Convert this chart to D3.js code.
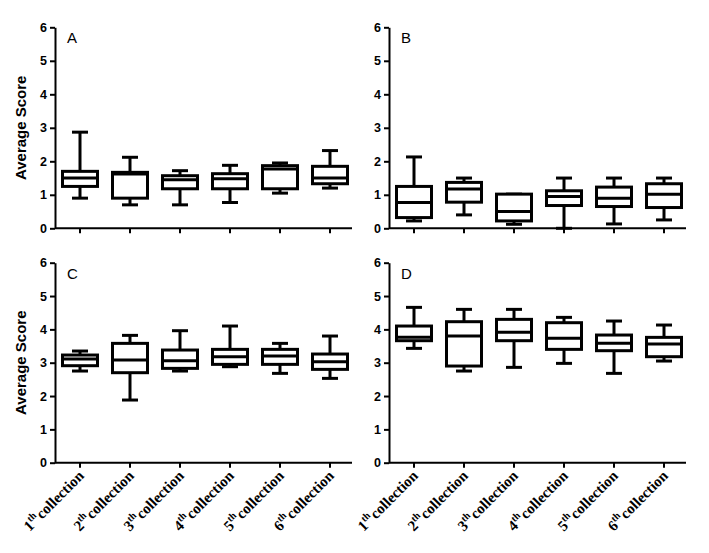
<!DOCTYPE html>
<html>
<head>
<meta charset="UTF-8">
<script src="https://d3js.org/d3.v7.min.js"></script>
<style>
  body { margin: 0; background: #fff; }
  .tick text { font-family: Arial, "Liberation Sans", sans-serif; font-weight: bold; font-size: 12.5px; }
</style>
</head>
<body>
<svg id="chart" width="709" height="553"></svg>
<script>
// categories (number + superscript "th")
const collections = ["1", "2", "3", "4", "5", "6"];
const yTicks = [0, 1, 2, 3, 4, 5, 6];

// each box: [whisker low, q1, median, q3, whisker high]
const panelA = [
  [0.90, 1.25, 1.50, 1.70, 2.87],
  [0.70, 0.90, 1.62, 1.67, 2.12],
  [0.70, 1.18, 1.45, 1.57, 1.72],
  [0.77, 1.18, 1.48, 1.63, 1.88],
  [1.05, 1.18, 1.77, 1.87, 1.95],
  [1.20, 1.33, 1.50, 1.85, 2.32]
];
const panelB = [
  [0.22, 0.32, 0.77, 1.25, 2.13],
  [0.40, 0.78, 1.17, 1.37, 1.50],
  [0.12, 0.22, 0.50, 1.02, 1.02],
  [0.00, 0.68, 0.95, 1.12, 1.50],
  [0.13, 0.65, 0.90, 1.23, 1.50],
  [0.25, 0.62, 1.02, 1.33, 1.50]
];
const panelC = [
  [2.75, 2.91, 3.11, 3.23, 3.35],
  [1.88, 2.70, 3.08, 3.58, 3.82],
  [2.75, 2.83, 3.06, 3.38, 3.96],
  [2.88, 2.95, 3.18, 3.40, 4.10],
  [2.68, 2.95, 3.20, 3.40, 3.58],
  [2.53, 2.80, 3.03, 3.26, 3.80]
];
const panelD = [
  [3.43, 3.66, 3.76, 4.10, 4.66],
  [2.75, 2.90, 3.80, 4.23, 4.60],
  [2.86, 3.66, 3.91, 4.30, 4.60],
  [2.98, 3.40, 3.73, 4.20, 4.36],
  [2.68, 3.36, 3.58, 3.83, 4.25],
  [3.05, 3.18, 3.56, 3.76, 4.13]
];

const panels = [
  { label: "A", data: panelA, x0: 55,  top: 27.3,  bottom: 228.3, yTitle: true,  xLabels: false },
  { label: "B", data: panelB, x0: 389, top: 27.3,  bottom: 228.3, yTitle: false, xLabels: false },
  { label: "C", data: panelC, x0: 55,  top: 262.7, bottom: 462.7, yTitle: true,  xLabels: true },
  { label: "D", data: panelD, x0: 389, top: 262.7, bottom: 462.7, yTitle: false, xLabels: true }
];

const svg = d3.select("#chart");
const plotW = 300;

panels.forEach(p => {
  const x = d3.scaleBand().domain(collections).range([p.x0, p.x0 + plotW]);
  const y = d3.scaleLinear().domain([0, 6]).range([p.bottom, p.top]);
  const g = svg.append("g");

  // y axis
  const ya = g.append("g")
    .attr("transform", `translate(${p.x0},0)`)
    .call(d3.axisLeft(y).tickValues(yTicks).tickFormat(d3.format("d"))
      .tickSize(5).tickSizeOuter(0).tickPadding(3));
  ya.selectAll("path, line").attr("stroke", "#000").attr("stroke-width", 2);

  // x axis
  const xa = g.append("g")
    .attr("transform", `translate(0,${p.bottom})`)
    .call(d3.axisBottom(x).tickSize(5).tickSizeOuter(0).tickFormat(""));
  xa.select("path").attr("d", `M${p.x0},0H${p.x0 + plotW - 3}`);
  xa.selectAll("path, line").attr("stroke", "#000").attr("stroke-width", 2);

  // boxes
  const bw = 35, cw = 16;
  p.data.forEach((d, i) => {
    const cx = x(collections[i]) + x.bandwidth() / 2;
    const [lo, q1, med, q3, hi] = d;
    const s = g.append("g").attr("stroke", "#000").attr("stroke-width", 3).attr("fill", "none");
    s.append("line").attr("x1", cx).attr("x2", cx).attr("y1", y(hi)).attr("y2", y(q3));
    s.append("line").attr("x1", cx).attr("x2", cx).attr("y1", y(q1)).attr("y2", y(lo));
    s.append("line").attr("x1", cx - cw / 2).attr("x2", cx + cw / 2).attr("y1", y(hi)).attr("y2", y(hi));
    s.append("line").attr("x1", cx - cw / 2).attr("x2", cx + cw / 2).attr("y1", y(lo)).attr("y2", y(lo));
    s.append("rect").attr("x", cx - bw / 2).attr("width", bw)
      .attr("y", y(q3)).attr("height", y(q1) - y(q3)).attr("fill", "#fff");
    s.append("line").attr("x1", cx - bw / 2).attr("x2", cx + bw / 2).attr("y1", y(med)).attr("y2", y(med));
  });

  // panel letter
  g.append("text")
    .attr("x", p.x0 + 12).attr("y", p.top + 16)
    .style("font-family", "Arial, 'Liberation Sans', sans-serif")
    .style("font-size", "15px")
    .text(p.label);

  if (p.yTitle) {
    g.append("text")
      .attr("transform", `translate(26,${(p.top + p.bottom) / 2}) rotate(-90)`)
      .attr("text-anchor", "middle")
      .style("font-family", "Arial, 'Liberation Sans', sans-serif")
      .style("font-weight", "bold")
      .style("font-size", "15px")
      .text("Average Score");
  }

  if (p.xLabels) {
    collections.forEach(c => {
      const cx = x(c) + x.bandwidth() / 2;
      const t = g.append("text")
        .attr("transform", `translate(${cx + 5},${p.bottom + 14}) rotate(-45)`)
        .attr("text-anchor", "end")
        .style("font-family", "'Liberation Serif', 'Times New Roman', serif")
        .style("font-weight", "bold")
        .style("font-size", "15px");
      t.append("tspan").text(c);
      t.append("tspan").attr("dy", -6).style("font-size", "10px").text("th");
      t.append("tspan").attr("dy", 6).attr("dx", 1).text("collection");
    });
  }
});
</script>
</body>
</html>
